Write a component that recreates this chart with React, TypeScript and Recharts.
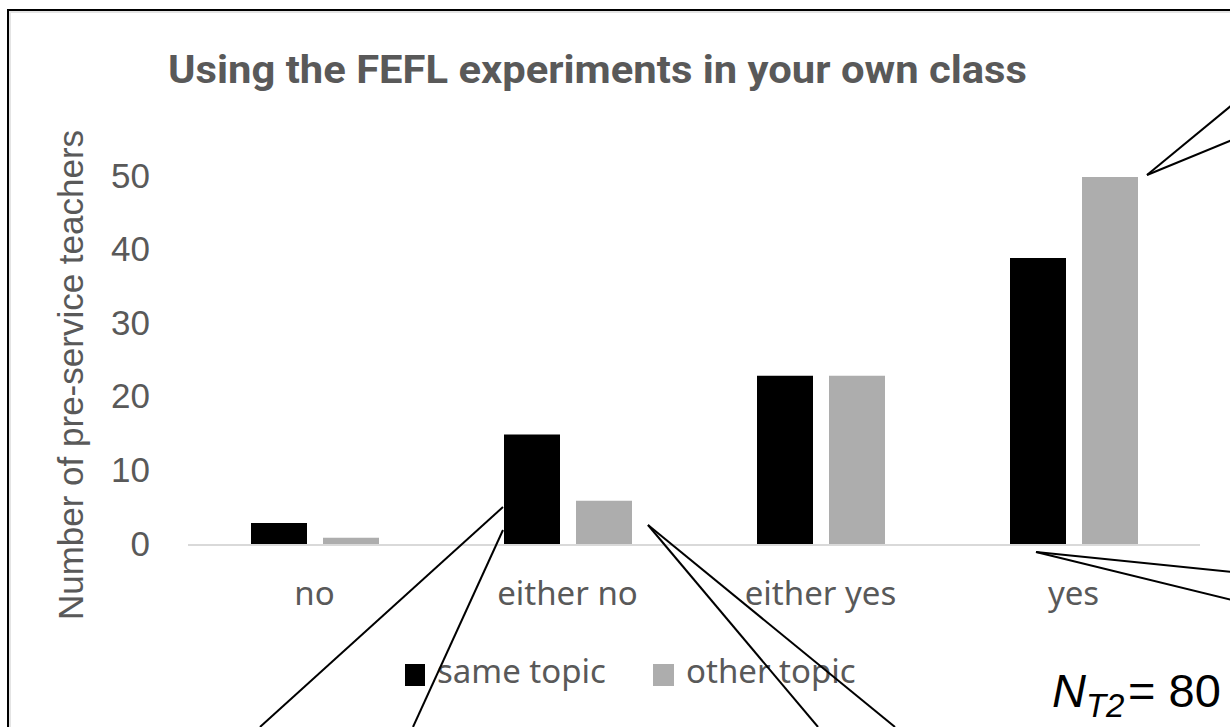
import React from 'react';
import { BarChart, Bar, XAxis, YAxis } from 'recharts';

const categories = ['no', 'either no', 'either yes', 'yes'];
const sameTopic = [3, 15, 23, 39];
const otherTopic = [1, 6, 23, 50];
const yTicks = [0, 10, 20, 30, 40, 50];
const seriesNames = ['same topic', 'other topic'];
const seriesColors = ['#000000', '#adadad'];
const titleText = 'Using the FEFL experiments in your own class';
const yLabelText = 'Number of pre-service teachers';

const data = categories.map((c, i) => ({ category: c, same: sameTopic[i], other: otherTopic[i] }));

const GRAY = '#595959';

const CatTick = (props: any) => {
  const { x, y, payload } = props;
  return (
    <text x={x} y={y + 60} textAnchor="middle" fill={GRAY} fontFamily="'Noto Sans'" fontSize={33}>
      {payload.value}
    </text>
  );
};

const ValTick = (props: any) => {
  const { x, y, payload } = props;
  return (
    <text x={x - 38} y={y + 10.5} textAnchor="end" fill={GRAY} fontFamily="'Liberation Sans', Arial" fontSize={35}>
      {payload.value}
    </text>
  );
};

const YLabel = (props: any) => {
  const vb = props.viewBox || { x: 0, y: 177, width: 188, height: 368 };
  const cx = vb.x + 83;
  const cy = vb.y + vb.height / 2 + 14;
  return (
    <text
      x={cx}
      y={cy}
      transform={`rotate(-90 ${cx} ${cy})`}
      textAnchor="middle"
      fill={GRAY}
      fontFamily="'Liberation Sans', Arial"
      fontSize={35}
    >
      {yLabelText}
    </text>
  );
};

const calloutLines: [number, number, number, number][] = [
  [1147, 175, 1232, 105],
  [1147, 175, 1232, 140],
  [1036, 552, 1232, 572],
  [1036, 552, 1232, 600],
  [503, 507, 260, 727],
  [503, 530, 413, 727],
  [648, 525, 818, 727],
  [648, 525, 895, 727],
];

export default function App() {
  return (
    <div
      style={{
        position: 'absolute',
        left: 0,
        top: 0,
        width: 1230,
        height: 727,
        overflow: 'hidden',
        background: '#ffffff',
      }}
    >
      <div
        style={{
          position: 'absolute',
          left: 7,
          top: 9,
          width: 1300,
          height: 800,
          border: '2px solid #000',
          boxShadow: 'inset 2px 2px 0 #e4e4e4',
        }}
      />
      <div style={{ position: 'absolute', left: 0, top: 0 }}>
        <BarChart
          width={1230}
          height={727}
          data={data}
          margin={{ top: 177, right: 30, bottom: 122, left: 0 }}
          barSize={56}
          barGap={16}
        >
          <XAxis
            dataKey="category"
            height={60}
            tickLine={false}
            tickSize={0}
            tickMargin={0}
            axisLine={{ stroke: '#d9d9d9', strokeWidth: 2 }}
            tick={<CatTick />}
            interval={0}
          />
          <YAxis
            width={188}
            domain={[0, 50]}
            ticks={yTicks}
            axisLine={false}
            tickLine={false}
            tickSize={0}
            tickMargin={0}
            tick={<ValTick />}
            label={<YLabel />}
          />
          <Bar dataKey="same" name={seriesNames[0]} fill={seriesColors[0]} isAnimationActive={false} />
          <Bar dataKey="other" name={seriesNames[1]} fill={seriesColors[1]} isAnimationActive={false} />
        </BarChart>
      </div>
      <svg
        width={1230}
        height={727}
        style={{ position: 'absolute', left: 0, top: 0, pointerEvents: 'none' }}
      >
        <text
          x={597.5}
          y={83}
          textAnchor="middle"
          fill={GRAY}
          fontFamily="Roboto"
          fontWeight={700}
          fontSize={39}
          textLength={859}
          lengthAdjust="spacingAndGlyphs"
        >
          {titleText}
        </text>
        {/* legend */}
        <rect x={405} y={664} width={20} height={22} fill={seriesColors[0]} />
        <text x={437} y={683} fill={GRAY} fontFamily="'Noto Sans'" fontSize={33}>
          {seriesNames[0]}
        </text>
        <rect x={653} y={664} width={21} height={22} fill={seriesColors[1]} />
        <text x={686} y={683} fill={GRAY} fontFamily="'Noto Sans'" fontSize={33}>
          {seriesNames[1]}
        </text>
        {/* N annotation */}
        <text x={1052} y={707} fill="#000" fontFamily="'Liberation Sans', Arial" fontSize={47}>
          <tspan fontStyle="italic">N</tspan>
          <tspan fontStyle="italic" fontSize={33} dy={10}>T2</tspan>
          <tspan x={1128} dy={-10}>= 80</tspan>
        </text>
        {calloutLines.map((l, i) => (
          <line key={i} x1={l[0]} y1={l[1]} x2={l[2]} y2={l[3]} stroke="#000" strokeWidth={2} />
        ))}
      </svg>
    </div>
  );
}
